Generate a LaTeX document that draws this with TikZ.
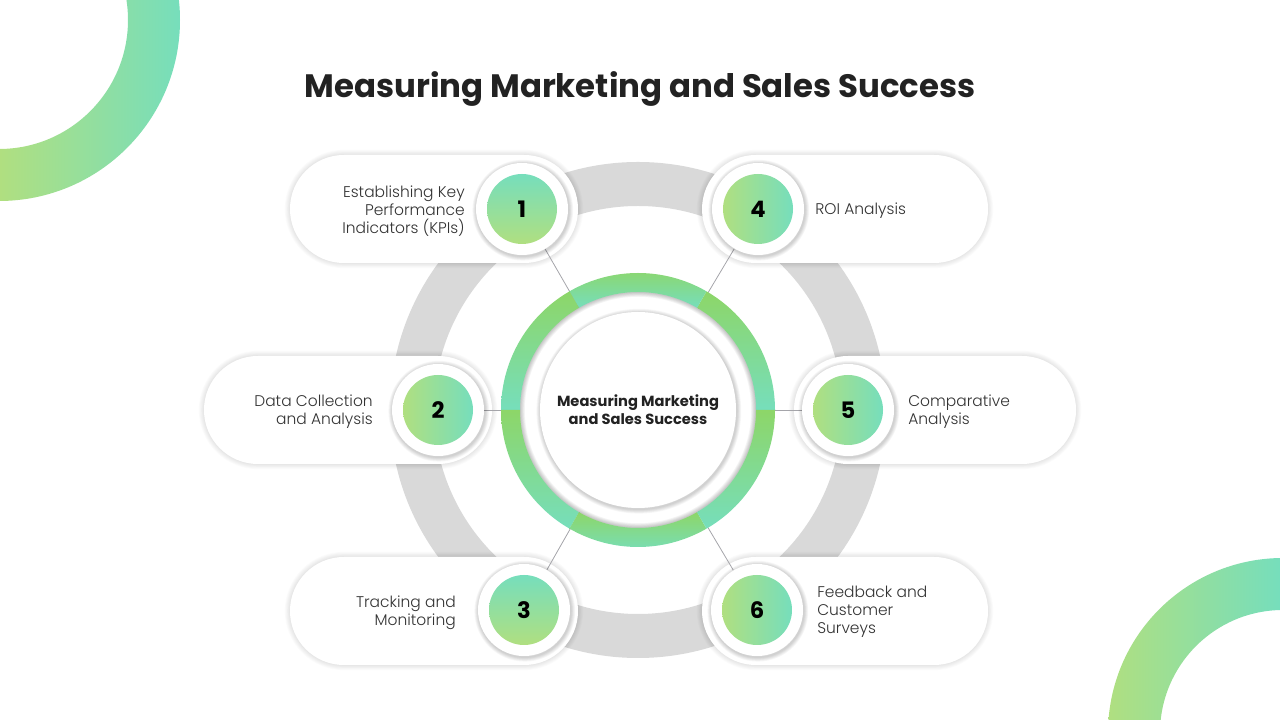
\documentclass[tikz,border=0pt]{standalone}
\usepackage{fontspec}
\setmainfont{Poppins}
\newfontfamily\lightfont{Poppins Light}
\usetikzlibrary{calc}
\definecolor{ringgrey}{RGB}{217,217,217}
\definecolor{ggreen}{RGB}{141,214,104}
\definecolor{gteal}{RGB}{118,222,188}
\definecolor{lgreen}{RGB}{176,223,128}
\definecolor{txt}{RGB}{34,34,34}
\definecolor{ptxt}{RGB}{51,51,51}
\definecolor{conn}{RGB}{165,165,170}
\newcommand\mypill[4]{%
  \foreach \k in {1,...,6}{\draw[black,opacity=0.016,line width=\k*1.3pt,rounded corners=40.5pt] (#1,#2) rectangle (#3,#4);}
  \fill[white,rounded corners=40.5pt] (#1,#2) rectangle (#3,#4);}
\newcommand\mydisk[2]{%
  \foreach \k in {1,...,6}{\draw[black,opacity=0.03,line width=\k*1.1pt] ($(#1)+(0.8,-1.2)$) circle (#2);}
  \fill[white] (#1) circle (#2);}
\tikzset{
  anchorpt/.style={circle,inner sep=0pt,minimum size=69pt},
  connector/.style={draw=conn,line width=0.6pt},
  numh/.style={circle,inner sep=0pt,minimum size=52.5pt,left color=lgreen,right color=gteal,font=\bfseries\fontsize{17}{17}\selectfont,text=black},
  numv/.style={circle,inner sep=0pt,minimum size=52.5pt,top color=gteal,bottom color=lgreen,font=\bfseries\fontsize{17}{17}\selectfont,text=black},
  pilltext/.style={inner sep=0pt,text=ptxt,font=\lightfont\fontsize{11.6}{13.5}\selectfont},
}
\begin{document}
\begin{tikzpicture}[x=0.75pt,y=0.75pt]
\useasboundingbox (0,0) rectangle (1280,720);
\clip (0,0) rectangle (1280,720);
% corner arcs
\begin{scope}[even odd rule]
  \clip (-1,700) circle (181) (-1,700) circle (129);
  \shade[left color=lgreen,right color=gteal] (0,500) rectangle (181,720);
\end{scope}
\begin{scope}[even odd rule]
  \clip (1283,-13) circle (175) (1283,-13) circle (123);
  \shade[left color=lgreen,right color=gteal] (1107,0) rectangle (1280,200);
\end{scope}
% title
\node[font=\bfseries\fontsize{24.3}{29}\selectfont,text=txt] (title) at (640,631) {Measuring Marketing and Sales Success};
% big grey ring
\fill[ringgrey,even odd rule] (638,310) circle (248) (638,310) circle (204);
% pills
\mypill{290}{457}{578}{565}
\mypill{702}{457}{988}{565}
\mypill{204}{256}{492}{364}
\mypill{794}{256}{1076}{364}
\mypill{290}{55}{578}{163}
\mypill{702}{55}{988}{163}
% anchor nodes
\node[circle,inner sep=0pt,minimum size=168pt] (hub) at (638,310) {};
\node[anchorpt] (n1) at (522,511) {};
\node[anchorpt] (n4) at (758,511) {};
\node[anchorpt] (n2) at (438,310) {};
\node[anchorpt] (n5) at (848,310) {};
\node[anchorpt] (n3) at (524,110) {};
\node[anchorpt] (n6) at (757,110) {};
% connectors
\foreach \n in {n1,n2,n3,n4,n5,n6}{\draw[connector] (\n) -- (hub);}
% hub
\fill[white] (hub.center) circle (118);
\foreach \k in {1,...,6}{\draw[black,opacity=0.04,line width=\k*1.2pt] (hub.center) circle (118);}
\foreach \a in {0,60,...,300}{
  \shade[top color=ggreen,bottom color=gteal]
    ($(hub.center)+(\a:137)$) arc[start angle=\a,end angle=\a+60,radius=137]
    -- ($(hub.center)+(\a+60:118)$) arc[start angle=\a+60,end angle=\a,radius=118] -- cycle;
}
\mydisk{hub.center}{98}
\node[font=\bfseries\fontsize{11}{13.5}\selectfont,align=center,text=txt] (hubtext) at (hub.center) {Measuring Marketing\\and Sales Success};
% number circles
\mydisk{n1.center}{46}
\mydisk{n2.center}{46}
\mydisk{n3.center}{46}
\mydisk{n4.center}{46}
\mydisk{n5.center}{46}
\mydisk{n6.center}{46}
\node[numv] (d1) at (n1.center) {1};
\node[numh] (d2) at (n2.center) {2};
\node[numv] (d3) at (n3.center) {3};
\node[numh] (d4) at (n4.center) {4};
\node[numh] (d5) at (n5.center) {5};
\node[numh] (d6) at (n6.center) {6};
% pill texts
\node[pilltext,anchor=east,align=right] (t1) at (465,509) {Establishing Key\\Performance\\Indicators (KPIs)};
\node[pilltext,anchor=east,align=right] (t2) at (373,308) {Data Collection\\and Analysis};
\node[pilltext,anchor=east,align=right] (t3) at (456,107) {Tracking and\\Monitoring};
\node[pilltext,anchor=west,align=left] (t4) at (815,509) {ROI Analysis};
\node[pilltext,anchor=west,align=left] (t5) at (908,308) {Comparative\\Analysis};
\node[pilltext,anchor=west,align=left] (t6) at (817,108) {Feedback and\\Customer\\Surveys};
\end{tikzpicture}
\end{document}
